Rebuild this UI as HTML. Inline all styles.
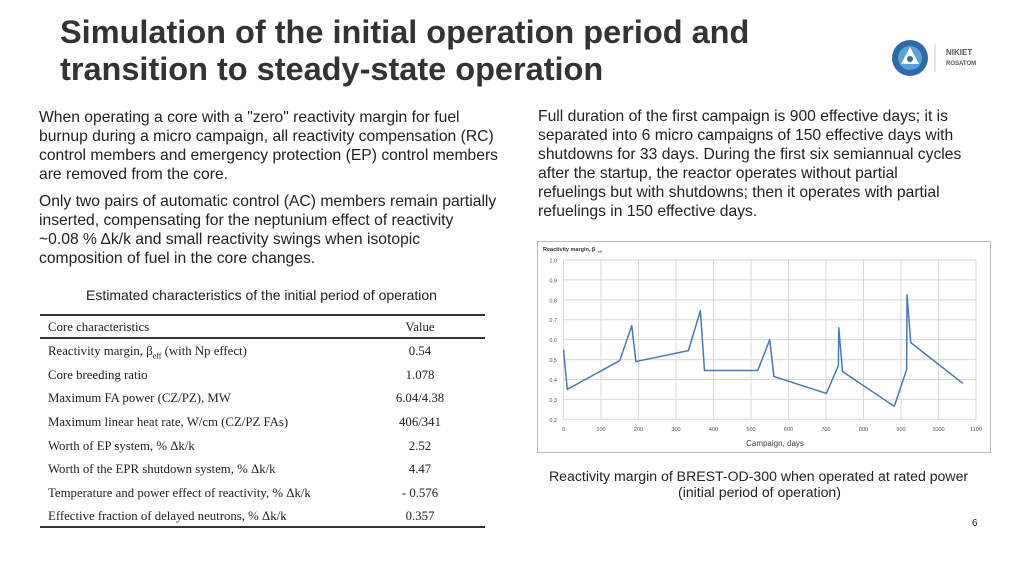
<!DOCTYPE html>
<html><head><meta charset="utf-8"><style>
body{margin:0;width:1024px;height:576px;background:#fff;position:relative;overflow:hidden;font-family:"Liberation Sans",Arial,sans-serif;color:#222}
.a{position:absolute;white-space:nowrap}
.t{font-weight:bold;font-size:32px;color:#333;transform-origin:0 0;transform:scaleX(1.015)}
.p{font-size:15.6px;color:#222;transform-origin:0 0;transform:scaleX(1.005)}
.tb{font-family:"Liberation Serif",serif;font-size:12.8px;color:#222}
.ln{position:absolute;left:40px;width:445px;background:#333}
</style></head><body>
<div class="a t" style="left:60px;top:14px">Simulation of the initial operation period and</div>
<div class="a t" style="left:60px;top:51px">transition to steady-state operation</div>
<div class="a" style="left:890px;top:38px;width:100px;height:40px">
<svg width="100" height="40"><circle cx="20" cy="20" r="18" fill="#2c6aa8"/><circle cx="20" cy="20" r="12" fill="#5aa0d8"/><path d="M20 9 L29 26 L11 26 Z" fill="#fff"/><circle cx="20" cy="21" r="3" fill="#2c6aa8"/><line x1="45" y1="6" x2="45" y2="34" stroke="#ccc"/></svg>
<div class="a" style="left:56px;top:10px;font-size:8px;color:#555;font-weight:bold">NIKIET</div>
<div class="a" style="left:56px;top:23px;font-size:6px;color:#555;font-weight:bold">ROSATOM</div>
</div>
<div>
<div class="a p" style="left:39px;top:109px">When operating a core with a "zero" reactivity margin for fuel</div>
<div class="a p" style="left:39px;top:128px">burnup during a micro campaign, all reactivity compensation (RC)</div>
<div class="a p" style="left:39px;top:147px">control members and emergency protection (EP) control members</div>
<div class="a p" style="left:39px;top:166px">are removed from the core.</div>
<div class="a p" style="left:39px;top:193px">Only two pairs of automatic control (AC) members remain partially</div>
<div class="a p" style="left:39px;top:212px">inserted, compensating for the neptunium effect of reactivity</div>
<div class="a p" style="left:39px;top:231px">~0.08 % Δk/k and small reactivity swings when isotopic</div>
<div class="a p" style="left:39px;top:250px">composition of fuel in the core changes.</div>
</div>
<div>
<div class="a p" style="left:538px;top:108px">Full duration of the first campaign is 900 effective days; it is</div>
<div class="a p" style="left:538px;top:127px">separated into 6 micro campaigns of 150 effective days with</div>
<div class="a p" style="left:538px;top:146px">shutdowns for 33 days. During the first six semiannual cycles</div>
<div class="a p" style="left:538px;top:165px">after the startup, the reactor operates without partial</div>
<div class="a p" style="left:538px;top:184px">refuelings but with shutdowns; then it operates with partial</div>
<div class="a p" style="left:538px;top:203px">refuelings in 150 effective days.</div>
</div>
<div class="a" style="left:86px;top:287px;font-size:14px">Estimated characteristics of the initial period of operation</div>
<div class="ln" style="top:314px;height:2px"></div>
<div class="ln" style="top:337px;height:1.5px"></div>
<div class="ln" style="top:526px;height:1.5px"></div>
<div id="tbl"></div>
<div class="a" style="left:537px;top:241px;width:454px;height:212px;border:1px solid #bbb;box-sizing:border-box"></div>
<svg class="a" id="ch" style="left:0;top:0" width="1024" height="576"></svg>
<div class="a" style="left:549px;top:468px;font-size:14.1px">Reactivity margin of BREST-OD-300 when operated at rated power</div>
<div class="a" style="left:678px;top:484px;font-size:14.1px">(initial period of operation)</div>
<div class="a" style="left:972px;top:518px;font-size:10px">6</div>
<script>
const rowsL=["Core characteristics","Reactivity margin, β<sub style='font-size:8px'>eff</sub> (with Np effect)","Core breeding ratio","Maximum FA power (CZ/PZ), MW","Maximum linear heat rate, W/cm (CZ/PZ FAs)","Worth of EP system, % Δk/k","Worth of the EPR shutdown system, % Δk/k","Temperature and power effect of reactivity, % Δk/k","Effective fraction of delayed neutrons, % Δk/k"];
const rowsV=["Value","0.54","1.078","6.04/4.38","406/341","2.52","4.47","- 0.576","0.357"];
const rowY=[320,344,368,391,415,439,462,486,509];
const tbl=document.getElementById('tbl');
rowsL.forEach((l,i)=>{
 const a=document.createElement('div');a.className='a tb';a.style.left='48px';a.style.top=rowY[i]+'px';a.innerHTML=l;
 
 
 tbl.appendChild(a);
 const b=document.createElement('div');b.className='a tb';b.style.left='420px';b.style.top=rowY[i]+'px';b.style.transform='translateX(-50%)';b.textContent=rowsV[i];
 
 
 tbl.appendChild(b);
});
// chart data
const days=[0,10,150,182,193,333,365,376,518,550,561,701,733,734,744,882,915,916,926,1065];
const margin=[0.55,0.35,0.495,0.67,0.49,0.545,0.745,0.445,0.445,0.6,0.415,0.33,0.47,0.66,0.44,0.265,0.45,0.825,0.585,0.38];
const xTicks=[0,100,200,300,400,500,600,700,800,900,1000,1100];
const yTicks=[0.2,0.3,0.4,0.5,0.6,0.7,0.8,0.9,1.0];
const X=v=>563.5+(v/1100)*412.5, Y=v=>419.3-(v-0.2)/0.8*159.3;
const svg=document.getElementById('ch'),NS='http://www.w3.org/2000/svg';
function mk(t,at,txt){const e=document.createElementNS(NS,t);for(const k in at)e.setAttribute(k,at[k]);if(txt!=null)e.textContent=txt;svg.appendChild(e);return e;}
yTicks.forEach(v=>{
 const g=mk('line',{x1:X(0),x2:X(1100),y1:Y(v),y2:Y(v),stroke:'#d9d9d9','stroke-width':1});
 
 
 const t=mk('text',{x:557,y:Y(v)+2.5,'font-size':5.5,fill:'#555','text-anchor':'end','font-family':'Liberation Sans'},v.toFixed(1).replace('.',','));
 
 
});
xTicks.forEach(v=>{
 const g=mk('line',{x1:X(v),x2:X(v),y1:Y(1.0),y2:Y(0.2),stroke:'#d9d9d9','stroke-width':1});
 
 
 const t=mk('text',{x:X(v),y:431,'font-size':5.5,fill:'#555','text-anchor':'middle','font-family':'Liberation Sans'},String(v));
 
 
});
const pl=mk('polyline',{points:days.map((d,i)=>X(d)+','+Y(margin[i])).join(' '),fill:'none',stroke:'#4a7ab5','stroke-width':1.5,'stroke-linejoin':'round'});


const yt=mk('text',{x:543,y:251,'font-size':5.5,fill:'#333','font-family':'Liberation Sans','font-weight':'bold'},'Reactivity margin, β');


const ys=mk('text',{x:598,y:253,'font-size':3.5,fill:'#333','font-family':'Liberation Sans'},'eff');


const xt=mk('text',{x:775,y:446,'font-size':8,fill:'#444','text-anchor':'middle','font-family':'Liberation Sans'},'Campaign, days');


</script>
</body></html>
